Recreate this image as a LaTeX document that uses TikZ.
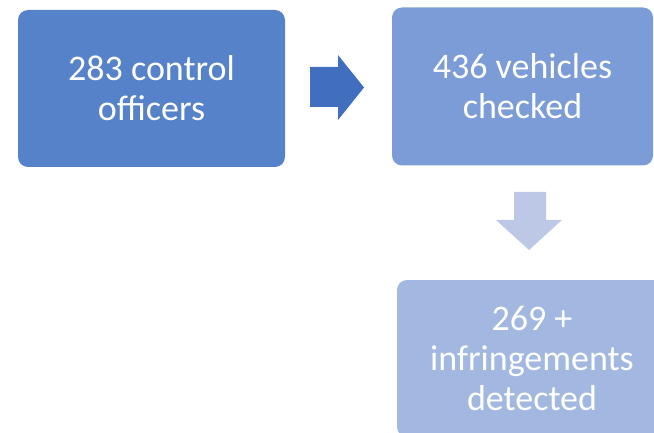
\documentclass[tikz,border=0pt]{standalone}
\usepackage{fontspec}
\setmainfont{Carlito}
\definecolor{boxA}{HTML}{5582C9}
\definecolor{boxB}{HTML}{7B9CD6}
\definecolor{boxC}{HTML}{A2B8E0}
\definecolor{arrA}{HTML}{416EBF}
\definecolor{arrB}{HTML}{BCC8E6}
\begin{document}
\begin{tikzpicture}[x=1pt,y=-1pt,
  box/.style={rounded corners=10pt, text=white, align=center, inner sep=0pt,
    font=\fontsize{36}{40}\selectfont}]
\useasboundingbox (0,0) rectangle (654,433);
\clip (0,0) rectangle (654,433);
\node[box, fill=boxA, minimum width=267pt, minimum height=157pt] (n1) at (151.5,88.5) {283 control\\officers};
\node[box, fill=boxB, minimum width=261pt, minimum height=158pt] (n2) at (522.5,86.5) {436 vehicles\\checked};
\node[box, fill=boxC, minimum width=270pt, minimum height=157pt] (n3) at (532,358.5) {269 +\\infringements\\detected};
\fill[arrA] (310,67) -- (338,67) -- (338,55) -- (364,87.5) -- (338,120) -- (338,107) -- (310,107) -- cycle;
\fill[arrB] (514,192) -- (546,192) -- (546,220) -- (562,220) -- (529,250) -- (496,220) -- (514,220) -- cycle;
\end{tikzpicture}
\end{document}
